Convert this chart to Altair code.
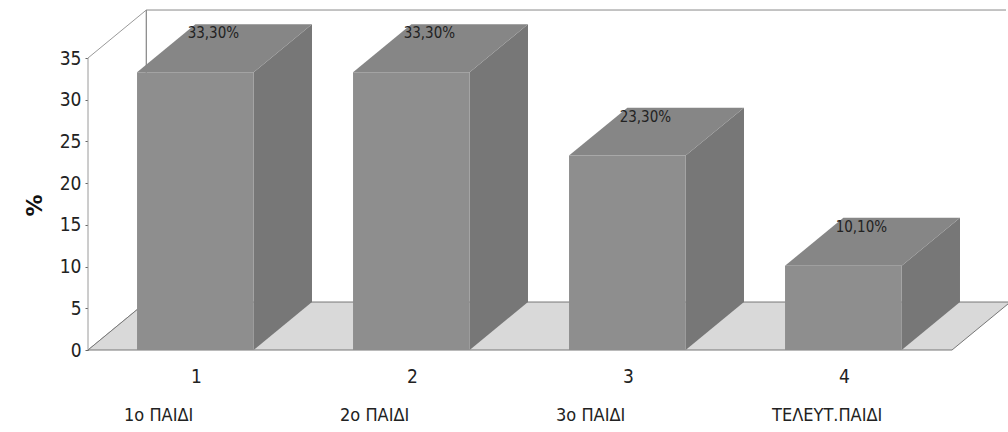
import altair as alt
import pandas as pd

# ---- data ----
categories = ["1ο ΠΑΙΔΙ", "2ο ΠΑΙΔΙ", "3ο ΠΑΙΔΙ", "ΤΕΛΕΥΤ.ΠΑΙΔΙ"]
tick_labels = ["1", "2", "3", "4"]
values = [33.3, 33.3, 23.3, 10.1]
value_labels = ["33,30%", "33,30%", "23,30%", "10,10%"]
y_ticks = [0, 5, 10, 15, 20, 25, 30, 35]

# ---- pseudo-3D geometry (in data units) ----
OFF, W, DX, DY = 0.227, 0.54, 0.27, 5.75
XMAX, YMAX = 4.25, 35
FLOOR_END = 4.0
FONT = "DejaVu Sans Condensed, DejaVu Sans, sans-serif"

front_rows, side_rows, top_rows, lab_rows = [], [], [], []
for i, (c, t, v, lab) in enumerate(zip(categories, tick_labels, values, value_labels)):
    x0, x1 = i + OFF, i + OFF + W
    front_rows.append({"bar": i, "x0": x0, "x1": x1, "v": v})
    side_rows += [{"bar": i, "x": x1, "y": 0, "y2": v},
                  {"bar": i, "x": x1 + DX, "y": DY, "y2": v + DY}]
    top_rows += [{"bar": i, "y": v, "x": x0, "x2": x1},
                 {"bar": i, "y": v + DY, "x": x0 + DX, "x2": x1 + DX}]
    lab_rows.append({"cat": c, "tick": t, "lab": lab, "v": v,
                     "xc": (x0 + x1) / 2, "xl": x0 - 0.06, "ytop": v + DY})

front = pd.DataFrame(front_rows)
side = pd.DataFrame(side_rows)
top = pd.DataFrame(top_rows)
labs = pd.DataFrame(lab_rows)

xs = alt.Scale(domain=[0, XMAX], nice=False, zero=False)
ys = alt.Scale(domain=[0, YMAX], nice=False, zero=False)

tick_expr = "[" + ",".join("'%s'" % t for t in tick_labels) + "][floor(datum.value)]"

# left wall
wall = pd.DataFrame([{"x": 0, "y": 0, "y2": YMAX}, {"x": DX, "y": DY, "y2": YMAX + DY}])
wall_l = alt.Chart(wall).mark_area(fill="white", stroke="#9a9a9a", strokeWidth=1, clip=False).encode(
    x=alt.X("x:Q", scale=xs,
            axis=alt.Axis(values=[i + 0.5 for i in range(len(tick_labels))], labelExpr=tick_expr,
                          domain=False, ticks=False, grid=False, labelFont=FONT, labelFontSize=19,
                          labelColor="#222", labelPadding=17, title=None)),
    y=alt.Y("y:Q", scale=ys,
            axis=alt.Axis(values=y_ticks, grid=False, domainColor="#666", tickColor="#666", tickSize=3,
                          labelFont=FONT, labelFontSize=19, labelColor="#222", labelPadding=4,
                          title="%", titleFont="DejaVu Sans", titleFontSize=22, titleFontWeight="bold",
                          titleColor="#111", titleX=-42, titleY=147)),
    y2="y2:Q",
)

# back wall edges
back = pd.DataFrame([{"x": DX, "x2": XMAX, "y": YMAX + DY, "y2": YMAX + DY},
                     {"x": DX, "x2": DX, "y": DY, "y2": YMAX + DY}])
back_l = alt.Chart(back).mark_rule(color="#8a8a8a", strokeWidth=1, clip=False).encode(
    x=alt.X("x:Q", scale=xs), x2="x2:Q", y=alt.Y("y:Q", scale=ys), y2="y2:Q")

# floor
floor = pd.DataFrame([{"y": 0, "x": 0, "x2": FLOOR_END}, {"y": DY, "x": DX, "x2": FLOOR_END + DX}])
floor_l = alt.Chart(floor).mark_area(orient="horizontal", fill="#d9d9d9", stroke="#777",
                                     strokeWidth=1, clip=False).encode(
    y=alt.Y("y:Q", scale=ys), x=alt.X("x:Q", scale=xs), x2="x2:Q")

side_l = alt.Chart(side).mark_area(fill="#777777", clip=False).encode(
    x=alt.X("x:Q", scale=xs), y=alt.Y("y:Q", scale=ys), y2="y2:Q", detail="bar:N")

top_l = alt.Chart(top).mark_area(orient="horizontal", fill="#868686", clip=False).encode(
    y=alt.Y("y:Q", scale=ys), x=alt.X("x:Q", scale=xs), x2="x2:Q", detail="bar:N")

front_l = alt.Chart(front).mark_bar(fill="#8e8e8e", clip=False).encode(
    x=alt.X("x0:Q", scale=xs), x2="x1:Q", y=alt.Y("v:Q", scale=ys), y2=alt.datum(0))

val_l = alt.Chart(labs).mark_text(font=FONT, fontSize=15, color="#222", baseline="middle",
                                  dy=9, dx=18, clip=False).encode(
    x=alt.X("xc:Q", scale=xs), y=alt.Y("ytop:Q", scale=ys), text="lab:N")

cat_l = alt.Chart(labs).mark_text(font=FONT, fontSize=18, color="#222", align="left",
                                  baseline="middle", clip=False).encode(
    x=alt.X("xl:Q", scale=xs), y=alt.value(358), text="cat:N")

chart = alt.layer(wall_l, back_l, floor_l, side_l, top_l, front_l, val_l, cat_l).properties(
    width=918, height=292,
    padding={"left": 88, "top": 58, "right": 2, "bottom": 82},
    autosize=alt.AutoSizeParams(type="none"),
    background="white",
).configure_view(stroke=None)

chart.save("out.html", embed_options={"renderer": "svg", "actions": False})
